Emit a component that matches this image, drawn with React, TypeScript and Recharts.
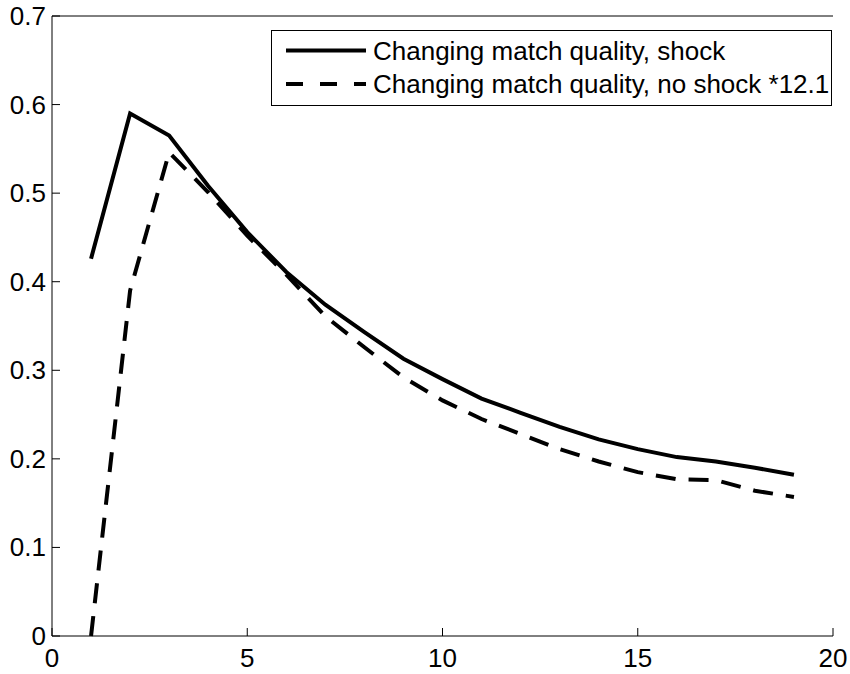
import { Legend, Line, LineChart, ReferenceLine, XAxis, YAxis } from "recharts";

const FONT = "'Liberation Sans', Arial, Helvetica, sans-serif";

const periods = [1, 2, 3, 4, 5, 6, 7, 8, 9, 10, 11, 12, 13, 14, 15, 16, 17, 18, 19];
const shock = [
  0.426, 0.59, 0.565, 0.508, 0.456, 0.411, 0.374, 0.343, 0.313, 0.29, 0.268, 0.252, 0.236, 0.222,
  0.211, 0.202, 0.197, 0.19, 0.182,
];
const noShock = [
  0.0, 0.39, 0.546, 0.501, 0.452, 0.408, 0.361, 0.326, 0.292, 0.266, 0.245, 0.228, 0.211, 0.197,
  0.185, 0.177, 0.176, 0.164, 0.157,
];
const xTicks = [0, 5, 10, 15, 20];
const yTicks = [0, 0.1, 0.2, 0.3, 0.4, 0.5, 0.6, 0.7];
const seriesNames = ["Changing match quality, shock", "Changing match quality, no shock *12.1"];

const data = periods.map((p, i) => ({ period: p, shock: shock[i], noShock: noShock[i] }));

const TICK_LEN = 8;

// matlab-style ticks: marks point into the plot, labels outside
function BottomTick({ x, y, payload }: any) {
  return (
    <g>
      <line x1={x} y1={y} x2={x} y2={y - TICK_LEN} stroke="#000" strokeWidth={1} />
      <text x={x} y={y + 31} textAnchor="middle" fontSize={26} fontFamily={FONT} fill="#000">
        {payload.value}
      </text>
    </g>
  );
}

function LeftTick({ x, y, payload }: any) {
  return (
    <g>
      <line x1={x} y1={y} x2={x + TICK_LEN} y2={y} stroke="#000" strokeWidth={1} />
      <text x={x - 6} y={y + 9} textAnchor="end" fontSize={26} fontFamily={FONT} fill="#000">
        {payload.value}
      </text>
    </g>
  );
}

function TopTick({ x, y }: any) {
  return <line x1={x} y1={y} x2={x} y2={y + TICK_LEN} stroke="#000" strokeWidth={1} />;
}

function RightTick({ x, y }: any) {
  return <line x1={x} y1={y} x2={x - TICK_LEN} y2={y} stroke="#000" strokeWidth={1} />;
}

function LegendBox() {
  const rows = [
    { name: seriesNames[0], dash: undefined, cy: 20.5 },
    { name: seriesNames[1], dash: "17 17", cy: 54 },
  ];
  return (
    <svg width={561} height={77} style={{ display: "block" }}>
      <rect x={0.5} y={0.5} width={560} height={75} fill="#fff" stroke="#000" strokeWidth={1} />
      {rows.map((r) => (
        <g key={r.name}>
          <line x1={15} y1={r.cy} x2={95} y2={r.cy} stroke="#000" strokeWidth={4} strokeDasharray={r.dash} />
          <text x={102} y={r.cy + 9} fontSize={26} fontFamily={FONT} fill="#000">
            {r.name}
          </text>
        </g>
      ))}
    </svg>
  );
}

export default function App() {
  return (
    <div style={{ position: "absolute", left: 0, top: 0, background: "#fff" }}>
      <LineChart width={850} height={674} data={data} margin={{ top: 16, right: 17, bottom: 0, left: 0 }}>
        <XAxis
          dataKey="period"
          type="number"
          domain={[0, 20]}
          ticks={xTicks}
          height={38}
          tickSize={0}
          tickMargin={0}
          tickLine={false}
          axisLine={{ stroke: "#000" }}
          tick={<BottomTick />}
          interval={0}
        />
        <XAxis
          xAxisId="top"
          orientation="top"
          type="number"
          domain={[0, 20]}
          ticks={xTicks}
          height={0}
          tickSize={0}
          tickMargin={0}
          tickLine={false}
          axisLine={{ stroke: "#000" }}
          tick={<TopTick />}
          interval={0}
        />
        <YAxis
          type="number"
          domain={[0, 0.7]}
          ticks={yTicks}
          width={52}
          tickSize={0}
          tickMargin={0}
          tickLine={false}
          axisLine={{ stroke: "#000" }}
          tick={<LeftTick />}
          interval={0}
        />
        <YAxis
          yAxisId="right"
          orientation="right"
          type="number"
          domain={[0, 0.7]}
          ticks={yTicks}
          width={0}
          tickSize={0}
          tickMargin={0}
          tickLine={false}
          axisLine={{ stroke: "#000" }}
          tick={<RightTick />}
          interval={0}
        />
        <ReferenceLine y={0.7} stroke="#000" />
        <Line
          type="linear"
          dataKey="shock"
          name={seriesNames[0]}
          stroke="#000"
          strokeWidth={4}
          dot={false}
          isAnimationActive={false}
        />
        <Line
          type="linear"
          dataKey="noShock"
          name={seriesNames[1]}
          stroke="#000"
          strokeWidth={4}
          strokeDasharray="20 13"
          dot={false}
          isAnimationActive={false}
        />
        <Legend
          layout="vertical"
          align="center"
          verticalAlign="middle"
          content={<LegendBox />}
          wrapperStyle={{ position: "absolute", left: 271, top: 30, width: 561, height: 77 }}
        />
      </LineChart>
    </div>
  );
}
